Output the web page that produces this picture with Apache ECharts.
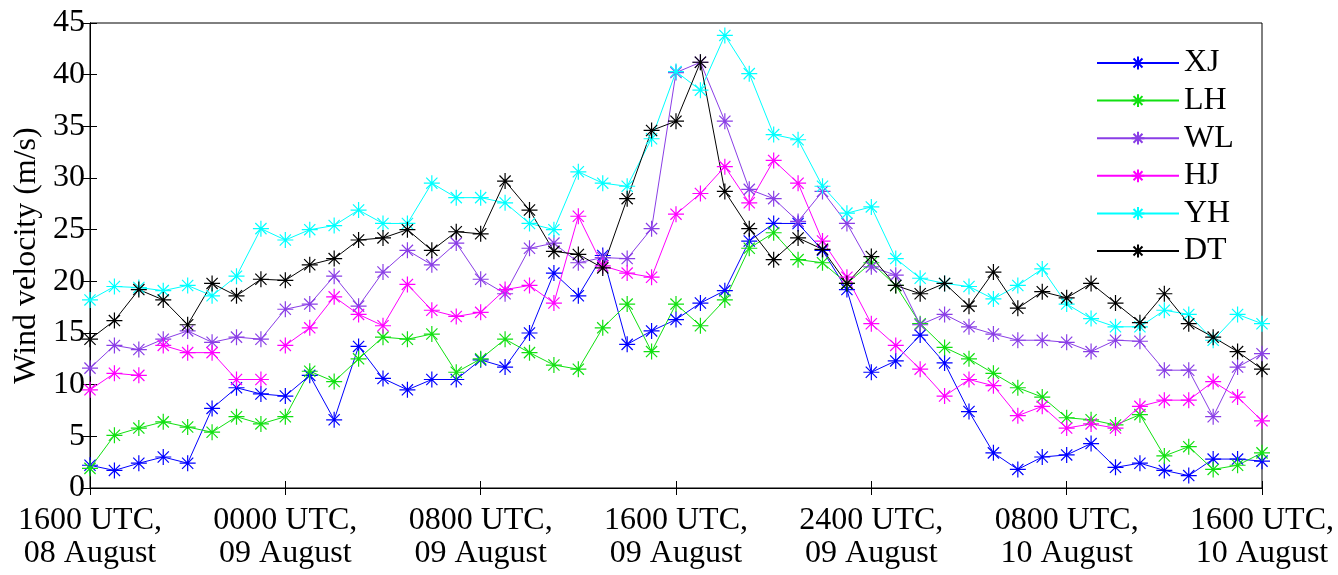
<!DOCTYPE html>
<html>
<head>
<meta charset="utf-8">
<script src="https://cdn.jsdelivr.net/npm/echarts@6/dist/echarts.min.js"></script>
<style>
  html, body { margin: 0; padding: 0; background: #fff; }
  #chart { width: 1338px; height: 575px; }
</style>
</head>
<body>
<div id="chart"></div>
<script>
// hours after 1600 UTC 08 August
const tickLabels = [
  "1600 UTC,\n08 August", "0000 UTC,\n09 August", "0800 UTC,\n09 August",
  "1600 UTC,\n09 August", "2400 UTC,\n09 August", "0800 UTC,\n10 August",
  "1600 UTC,\n10 August"
];

const xj = [2.2, 1.7, 2.4, 3.0, 2.4, 7.7, 9.7, 9.1, 8.9, 10.9, 6.6, 13.7, 10.6, 9.5, 10.5, 10.5, 12.4,
  11.7, 15.0, 20.8, 18.6, 22.5, 13.9, 15.2, 16.3, 17.9, 19.1, 23.9, 25.6, 25.6, 23.0, 19.2, 11.2,
  12.3, 14.8, 12.1, 7.4, 3.4, 1.8, 3.0, 3.2, 4.3, 2.0, 2.4, 1.7, 1.2, 2.8, 2.8, 2.6];
const lh = [1.9, 5.1, 5.8, 6.4, 5.9, 5.4, 6.9, 6.2, 6.9, 11.3, 10.3, 12.5, 14.6, 14.4, 14.9, 11.2, 12.5,
  14.4, 13.1, 11.9, 11.5, 15.5, 17.8, 13.2, 17.8, 15.7, 18.2, 23.2, 24.7, 22.1, 21.8, 19.8, 21.8,
  19.6, 15.9, 13.6, 12.5, 11.1, 9.7, 8.8, 6.8, 6.6, 6.1, 7.1, 3.1, 4.0, 1.8, 2.2, 3.4];
const wl = [11.6, 13.8, 13.4, 14.4, 15.2, 14.1, 14.6, 14.4, 17.3, 17.8, 20.5, 17.6, 20.9, 23.0, 21.6, 23.7, 20.2,
  18.8, 23.2, 23.7, 21.8, 22.3, 22.2, 25.1, 40.2, 41.2, 35.5, 28.9, 28.0, 25.8, 28.7, 25.6, 21.4,
  20.6, 15.8, 16.8, 15.6, 14.9, 14.3, 14.3, 14.1, 13.2, 14.3, 14.2, 11.4, 11.4, 6.9, 11.7, 13.0];
const hj = [9.5, 11.1, 10.9, 13.8, 13.1, 13.1, 10.5, 10.5, 13.8, 15.5, 18.5, 16.8, 15.7, 19.7, 17.2, 16.6, 17.0,
  19.2, 19.6, 17.9, 26.3, 21.5, 20.8, 20.4, 26.5, 28.5, 31.1, 27.6, 31.7, 29.5, 23.9, 20.4, 15.9,
  13.8, 11.5, 8.9, 10.5, 9.9, 7.0, 7.9, 5.8, 6.2, 5.8, 7.9, 8.5, 8.5, 10.3, 8.8, 6.5];
const yh = [18.2, 19.5, 19.4, 19.1, 19.6, 18.6, 20.5, 25.1, 24.0, 25.0, 25.4, 26.9, 25.6, 25.6, 29.5, 28.1, 28.1,
  27.6, 25.6, 25.0, 30.6, 29.5, 29.2, 33.8, 40.3, 38.5, 43.8, 40.1, 34.2, 33.7, 29.2, 26.6, 27.2,
  22.2, 20.3, 19.8, 19.5, 18.3, 19.6, 21.2, 17.8, 16.4, 15.6, 15.6, 17.2, 16.8, 14.3, 16.8, 15.9];
const dt = [14.4, 16.2, 19.2, 18.2, 15.8, 19.8, 18.6, 20.2, 20.1, 21.6, 22.2, 24.0, 24.2, 25.0, 23.0, 24.8, 24.6,
  29.7, 26.9, 22.9, 22.6, 21.3, 28.0, 34.6, 35.5, 41.2, 28.7, 25.1, 22.1, 24.2, 23.1, 19.8, 22.4,
  19.6, 18.8, 19.8, 17.6, 20.9, 17.4, 19.0, 18.4, 19.8, 17.9, 16.0, 18.8, 15.9, 14.6, 13.2, 11.5];

// places where the plotted line is broken (between two hourly points)
const hjBreaks = [2.5, 7.5];

const stations = [
  { name: "XJ", values: xj, color: "#0000ff", breaks: [] },
  { name: "LH", values: lh, color: "#11e011", breaks: [] },
  { name: "WL", values: wl, color: "#8a3ee6", breaks: [] },
  { name: "HJ", values: hj, color: "#ff00ff", breaks: hjBreaks },
  { name: "YH", values: yh, color: "#00ffff", breaks: [] },
  { name: "DT", values: dt, color: "#000000", breaks: [] }
];

const star = "path://M0,-10L0,10M-10,0L10,0M-7,-7L7,7M-7,7L7,-7";
const serif = "'Liberation Serif', 'Times New Roman', serif";

function buildData(values, breaks) {
  const out = [];
  values.forEach((v, i) => {
    out.push([i, v]);
    if (breaks.indexOf(i + 0.5) >= 0) out.push([i + 0.5, "-"]);
  });
  return out;
}

const chart = echarts.init(document.getElementById("chart"));
chart.setOption({
  animation: false,
  backgroundColor: "#fff",
  grid: { left: 90, right: 76, top: 23, bottom: 87, show: true, borderColor: "#000", borderWidth: 1 },
  legend: {
    orient: "vertical",
    left: 1096,
    top: 47,
    padding: 0,
    itemWidth: 82,
    itemHeight: 16,
    itemGap: 5.6,
    textStyle: { fontFamily: serif, fontSize: 32, lineHeight: 28, color: "#000" },
    data: stations.map(s => s.name)
  },
  xAxis: [
    {
      type: "value", min: 0, max: 48, interval: 8,
      axisLine: { lineStyle: { color: "#000" } },
      axisTick: { inside: true, length: 7, lineStyle: { color: "#000" } },
      splitLine: { show: false },
      axisLabel: {
        color: "#000", fontFamily: serif, fontSize: 32, lineHeight: 33, margin: 16,
        formatter: v => tickLabels[v / 8]
      }
    },
    {
      type: "value", min: 0, max: 48, interval: 8, position: "top",
      axisLine: { lineStyle: { color: "#000" } },
      axisTick: { inside: true, length: 7, lineStyle: { color: "#000" } },
      splitLine: { show: false },
      axisLabel: { show: false }
    }
  ],
  yAxis: [
    {
      type: "value", min: 0, max: 45, interval: 5,
      name: "Wind velocity (m/s)", nameLocation: "middle", nameGap: 43,
      nameTextStyle: { fontFamily: serif, fontSize: 32, color: "#000" },
      axisLine: { show: true, lineStyle: { color: "#000" } },
      axisTick: { show: true, inside: true, length: 7, lineStyle: { color: "#000" } },
      splitLine: { show: false },
      axisLabel: { color: "#000", fontFamily: serif, fontSize: 32, margin: 5 }
    },
    {
      type: "value", min: 0, max: 45, interval: 5, position: "right",
      axisLine: { show: true, lineStyle: { color: "#000" } },
      axisTick: { show: true, inside: true, length: 7, lineStyle: { color: "#000" } },
      splitLine: { show: false },
      axisLabel: { show: false }
    }
  ],
  series: stations.map(s => ({
    name: s.name,
    type: "line",
    data: buildData(s.values, s.breaks),
    connectNulls: false,
    symbol: star,
    symbolSize: 16,
    showAllSymbol: true,
    lineStyle: { color: s.color, width: 1 },
    itemStyle: { color: s.color, borderColor: s.color, borderWidth: 1.2 }
  }))
});
</script>
</body>
</html>
